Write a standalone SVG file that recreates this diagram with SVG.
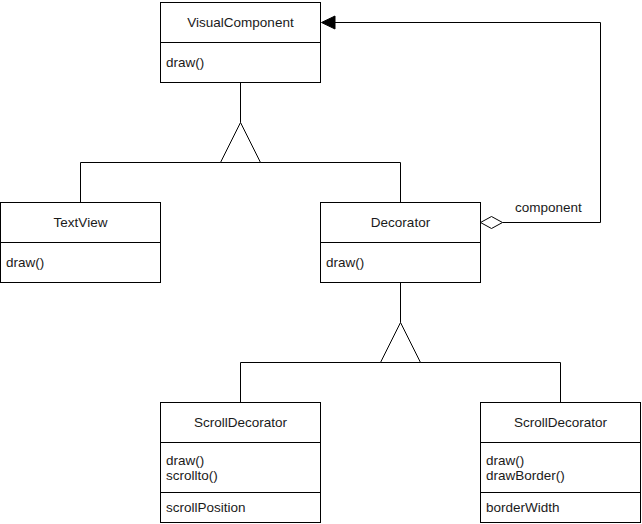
<svg xmlns="http://www.w3.org/2000/svg" width="642" height="524" viewBox="0 0 642 524">
<style>
.box{fill:#fff;stroke:#000;stroke-width:1}
.ln{fill:none;stroke:#000;stroke-width:1}
.tri{fill:#fff;stroke:#000;stroke-width:1}
text{font-family:"Liberation Sans",Arial,sans-serif;font-size:13.5px;fill:#1a1a1a}
.c{text-anchor:middle}
</style>
<rect width="642" height="524" fill="#fff"/>
<g id="connectors">
<path class="ln" d="M240.5 82.5V122.5M80.5 202.5V162.5H400.5V202.5"/>
<path class="tri" d="M240.5 122.5L260.5 162.5H220.5Z"/>
<path class="ln" d="M400.5 282.5V322.5M240.5 402.5V362.5H560.5V402.5"/>
<path class="tri" d="M400.5 322.5L420.5 362.5H380.5Z"/>
<path class="ln" d="M502.5 222.5H600.5V22.5H334"/>
<path d="M321.5 22.5L335 16V29Z" fill="#000" stroke="#000"/>
<path d="M480.5 222.5L491.5 216.5L502.5 222.5L491.5 228.5Z" fill="#fff" stroke="#000"/>
<text x="515" y="212">component</text>
</g>
<g id="VisualComponent">
<rect class="box" x="160.5" y="2.5" width="160" height="80"/>
<path class="ln" d="M160.5 42.5H320.5"/>
<text class="c" x="240.5" y="27">VisualComponent</text>
<text x="166" y="67">draw()</text>
</g>
<g id="TextView">
<rect class="box" x="0.5" y="202.5" width="160" height="80"/>
<path class="ln" d="M0.5 242.5H160.5"/>
<text class="c" x="80.5" y="227">TextView</text>
<text x="6" y="267">draw()</text>
</g>
<g id="Decorator">
<rect class="box" x="320.5" y="202.5" width="160" height="80"/>
<path class="ln" d="M320.5 242.5H480.5"/>
<text class="c" x="400.5" y="227">Decorator</text>
<text x="326" y="267">draw()</text>
</g>
<g id="ScrollDecorator1">
<rect class="box" x="160.5" y="402.5" width="160" height="120"/>
<path class="ln" d="M160.5 442.5H320.5M160.5 492.5H320.5"/>
<text class="c" x="240.5" y="427">ScrollDecorator</text>
<text x="166" y="465">draw()</text>
<text x="166" y="480">scrollto()</text>
<text x="166" y="512">scrollPosition</text>
</g>
<g id="ScrollDecorator2">
<rect class="box" x="480.5" y="402.5" width="160" height="120"/>
<path class="ln" d="M480.5 442.5H640.5M480.5 492.5H640.5"/>
<text class="c" x="560.5" y="427">ScrollDecorator</text>
<text x="486" y="465">draw()</text>
<text x="486" y="480">drawBorder()</text>
<text x="486" y="512">borderWidth</text>
</g>
</svg>
